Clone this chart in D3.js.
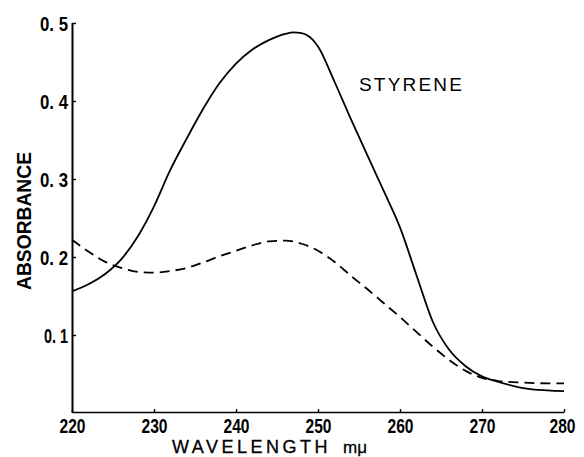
<!DOCTYPE html>
<html><head><meta charset="utf-8">
<script src="https://cdn.jsdelivr.net/npm/d3@7"></script>
<style>
body{margin:0;background:#fff;}
svg{display:block;}
.tick text{font-family:"Liberation Sans","DejaVu Sans",sans-serif;font-weight:bold;}
</style></head><body>
<svg id="c" width="584" height="457"></svg>
<script>
const wavelength = [220,222,224,226,228,230,232,234,236,238,240,242,244,246,247,248,249,250,252,254,256,258,260,262,264,266,268,270,272,275,278,280];
const styrene = [0.156,0.165,0.178,0.197,0.226,0.265,0.312,0.352,0.390,0.423,0.448,0.466,0.478,0.486,0.488,0.487,0.482,0.470,0.425,0.377,0.331,0.285,0.238,0.177,0.117,0.081,0.060,0.047,0.040,0.032,0.029,0.028];
const wavelength2 = [220,222,224,226,228,230,232,234,236,238,240,242,244,246,248,250,252,254,256,258,260,262,264,266,268,270,272,275,278,280];
const reference = [0.222,0.207,0.194,0.186,0.181,0.180,0.182,0.186,0.193,0.201,0.208,0.215,0.220,0.221,0.217,0.208,0.194,0.176,0.159,0.141,0.123,0.104,0.085,0.068,0.054,0.045,0.041,0.039,0.038,0.038];
const xTicks = [220,230,240,250,260,270,280];
const yTicks = [0.1,0.2,0.3,0.4,0.5];
const yTickLabels = ["0. 1","0. 2","0. 3","0. 4","0. 5"];

const svg = d3.select("#c");
const x = d3.scaleLinear().domain([220,280]).range([72,564]);
const y = d3.scaleLinear().domain([0,0.5]).range([413,23]);

// x axis
const gx = svg.append("g").attr("transform","translate(0,412)")
  .call(d3.axisTop(x).tickValues(xTicks).tickSize(3).tickSizeOuter(0).tickFormat(d3.format("d")));
gx.select(".domain").attr("stroke","#000").attr("stroke-width",1.6);
gx.selectAll(".tick line").attr("stroke-width",1.4);
gx.selectAll(".tick text").attr("y",21).attr("dy","0").attr("font-size",20).attr("fill","#000")
  .attr("textLength",26).attr("lengthAdjust","spacingAndGlyphs")
  .attr("dx",(d)=>d===280?-2:0);

// y axis
const gy = svg.append("g").attr("transform","translate(72,0)")
  .call(d3.axisRight(y).tickValues(yTicks).tickSize(4).tickSizeOuter(0).tickFormat((d,i)=>yTickLabels[i]));
gy.select(".domain").attr("stroke","#000").attr("stroke-width",2);
gy.selectAll(".tick line").attr("stroke-width",1.4);
gy.selectAll(".tick text").attr("x",-4).attr("text-anchor","end").attr("dy","0.36em").attr("font-size",20).attr("fill","#000")
  .attr("textLength",(d,i)=>i===0?24:28).attr("lengthAdjust","spacingAndGlyphs");
gy.select(".domain").attr("d",`M0.5,${y(0)}V${y(0.5)}`);

const line = d3.line().x(d=>x(d[0])).y(d=>y(d[1])).curve(d3.curveMonotoneX);
svg.append("path").datum(wavelength.map((w,i)=>[w,styrene[i]]))
  .attr("d",line).attr("fill","none").attr("stroke","#000").attr("stroke-width",1.8);
svg.append("path").datum(wavelength2.map((w,i)=>[w,reference[i]]))
  .attr("d",line).attr("fill","none").attr("stroke","#000").attr("stroke-width",1.8).attr("stroke-dasharray","10,6");

svg.append("text").attr("x",359).attr("y",91).attr("font-family","Liberation Sans, Arial, sans-serif")
  .attr("font-size",19).attr("letter-spacing",2.2).text("STYRENE");

const xl = svg.append("text").attr("x",172).attr("y",453).attr("font-family","Liberation Sans, Arial, sans-serif")
  .attr("font-size",18).attr("stroke","#000").attr("stroke-width",0.3);
xl.append("tspan").attr("letter-spacing",3.5).text("WAVELENGTH");
xl.append("tspan").attr("dx",12).attr("font-size",17).attr("letter-spacing",0).text("mμ");

svg.append("text").attr("transform","translate(31,221) rotate(-90)").attr("text-anchor","middle")
  .attr("font-family","Liberation Sans, Arial, sans-serif").attr("font-weight","bold")
  .attr("font-size",20).attr("textLength",138).attr("lengthAdjust","spacingAndGlyphs").text("ABSORBANCE");
</script></body></html>
